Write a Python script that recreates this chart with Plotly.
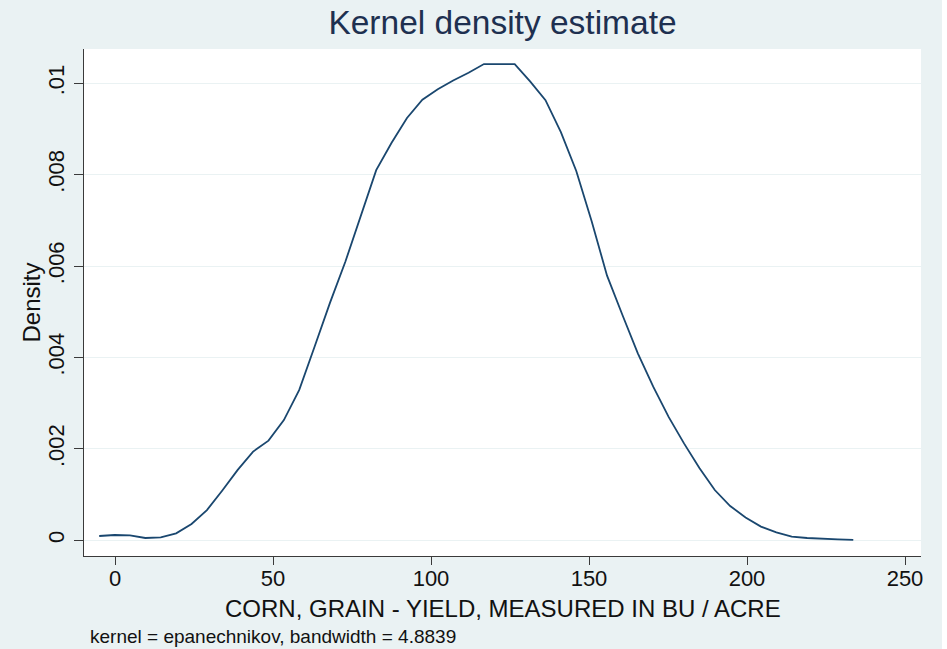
import plotly.graph_objects as go

# Evaluation grid (BU / ACRE) and kernel density values
yield_grid = [-5.0, -0.13, 4.74, 9.61, 14.48, 19.35, 24.22, 29.09, 33.96, 38.83,
              43.70, 48.57, 53.44, 58.31, 63.18, 68.05, 72.92, 77.79, 82.66, 87.53,
              92.40, 97.27, 102.14, 107.01, 111.88, 116.75, 121.62, 126.49, 131.36, 136.23,
              141.10, 145.97, 150.84, 155.71, 160.58, 165.45, 170.32, 175.19, 180.06, 184.93,
              189.80, 194.67, 199.54, 204.41, 209.28, 214.15, 219.02, 223.89, 228.76, 233.63]
density = [0.000094, 0.000116, 0.000109, 0.000050, 0.000065, 0.000153, 0.000357, 0.00066, 0.00109, 0.00154,
           0.00194, 0.00218, 0.00263, 0.00329, 0.00424, 0.00520, 0.00610, 0.00710, 0.00810, 0.00870,
           0.00924, 0.00964, 0.00987, 0.01006, 0.01023, 0.01042, 0.01042, 0.01042, 0.01004, 0.00963,
           0.00893, 0.00808, 0.00698, 0.00579, 0.00493, 0.00409, 0.00336, 0.00270, 0.00212, 0.00158,
           0.00110, 0.00075, 0.00050, 0.00030, 0.000175, 0.00008, 0.00005, 0.00003, 0.00002, 0.00001]

x_ticks = [0, 50, 100, 150, 200, 250]
y_ticks = [0, 0.002, 0.004, 0.006, 0.008, 0.01]
y_tick_labels = ["0", ".002", ".004", ".006", ".008", ".01"]

title_text = "Kernel density estimate"
x_title = "CORN, GRAIN - YIELD, MEASURED IN BU / ACRE"
y_title = "Density"
note_text = "kernel = epanechnikov, bandwidth = 4.8839"

W, H = 947, 649
ML, MR, MT, MB = 84, 26, 49, 93
PW = W - ML - MR
PH = H - MT - MB

BG = "#eaf2f3"
NAVY = "#1a476f"
FONT = "Liberation Sans, Arial, Helvetica, sans-serif"

fig = go.Figure()
fig.add_trace(go.Scatter(x=yield_grid, y=density, mode="lines",
                         line=dict(color=NAVY, width=1.8), hoverinfo="skip",
                         showlegend=False))

fig.update_layout(
    width=W, height=H,
    margin=dict(l=ML, r=MR, t=MT, b=MB, pad=0),
    paper_bgcolor=BG, plot_bgcolor="white",
    font=dict(family=FONT, color="#111111"),
    title=dict(text=title_text, x=(ML + PW / 2) / W, xanchor="center",
               y=1 - 22 / H, yanchor="middle",
               font=dict(size=33.5, color="#1e3050", family=FONT)),
    xaxis=dict(range=[-9.81, 255.06], tickvals=x_ticks,
               ticks="outside", ticklen=8, tickcolor="#3a3a3a", tickwidth=1,
               showline=True, linecolor="#3a3a3a", linewidth=1.2,
               showgrid=False, zeroline=False,
               tickfont=dict(size=22, color="#111111"), ticklabelstandoff=-6),
    yaxis=dict(range=[-0.000344, 0.01075], tickvals=y_ticks, ticktext=y_tick_labels,
               ticks="outside", ticklen=9, tickcolor="#3a3a3a", tickwidth=1,
               showline=True, linecolor="#3a3a3a", linewidth=1.2,
               showgrid=True, gridcolor=BG, gridwidth=1.2, zeroline=False,
               tickangle=-90, tickfont=dict(size=22, color="#111111"),
               ticklabelstandoff=1),
)

# x axis title
fig.add_annotation(text=x_title, xref="paper", yref="paper",
                   x=0.5, y=-(608 - (MT + PH)) / PH, xanchor="center", yanchor="middle",
                   showarrow=False, font=dict(size=24, color="#111111", family=FONT))
# y axis title
fig.add_annotation(text=y_title, xref="paper", yref="paper",
                   x=-(ML - 31) / PW, y=0.5, xanchor="center", yanchor="middle",
                   textangle=-90, showarrow=False,
                   font=dict(size=24, color="#111111", family=FONT))
# note
fig.add_annotation(text=note_text, xref="paper", yref="paper",
                   x=-(ML - 88) / PW, y=-(636 - (MT + PH)) / PH,
                   xanchor="left", yanchor="middle", showarrow=False,
                   font=dict(size=19, color="#111111", family=FONT))

# white strip at the right edge of the image
fig.add_shape(type="rect", xref="paper", yref="paper",
              x0=(942 - ML) / PW, x1=(W - ML) / PW + 0.05, y0=-1, y1=2,
              fillcolor="white", line=dict(width=0), layer="below")

fig.write_html("out.html", config={"displayModeBar": False},
               post_script="document.body.style.margin='0';document.body.style.overflow='hidden';")
